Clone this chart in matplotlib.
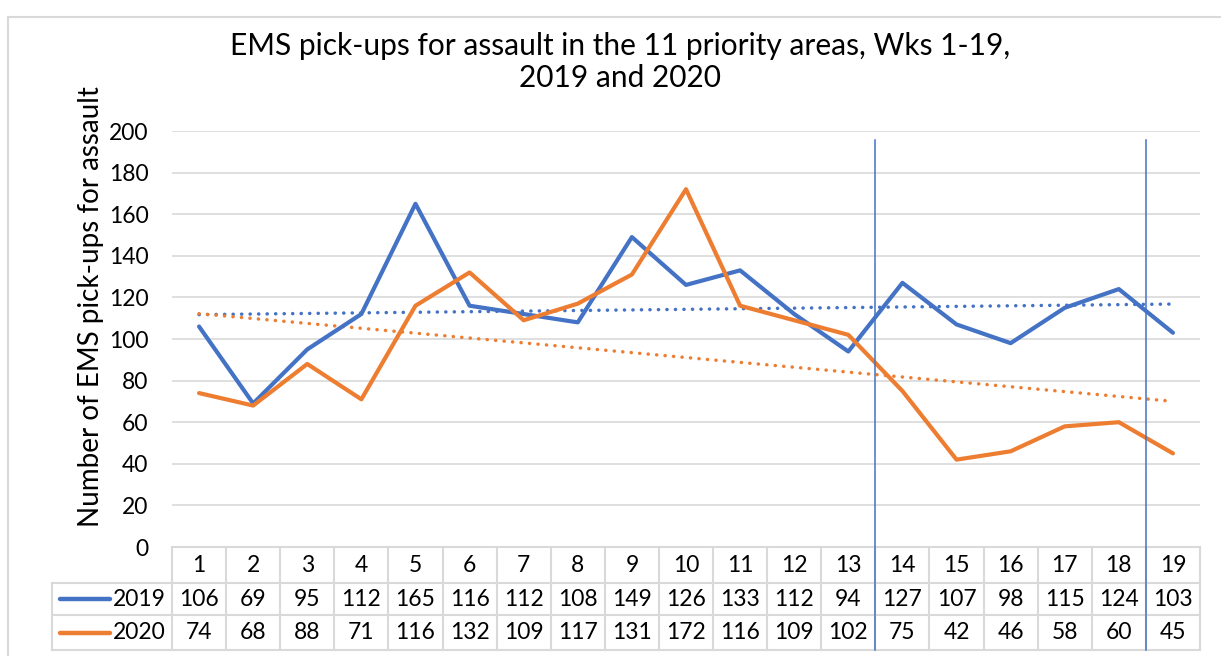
import numpy as np
import matplotlib
matplotlib.use("Agg")
import matplotlib.pyplot as plt
from matplotlib.lines import Line2D
from matplotlib.transforms import blended_transform_factory

# DATA ##########################################
weeks = list(range(1, 20))
ems_2019 = [106, 69, 95, 112, 165, 116, 112, 108, 149, 126, 133, 112, 94, 127, 107, 98, 115, 124, 103]
ems_2020 = [74, 68, 88, 71, 116, 132, 109, 117, 131, 172, 116, 109, 102, 75, 42, 46, 58, 60, 45]
series_names = ['2019', '2020']
marker_weeks = [13.5, 18.5]   # week boundaries highlighted with vertical lines
y_ticks = list(range(0, 201, 20))

# STYLE #########################################
plt.rcParams['font.family'] = ['Lato', 'DejaVu Sans']
blue = '#4472c4'
orange = '#ed7d31'
grid_col = '#d9d9d9'
W, H = 1221, 656
fs_num = 16.5

fig = plt.figure(figsize=(W / 100, H / 100), dpi=100)
ax = fig.add_axes([172 / W, 1 - 547 / H, (1200 - 172) / W, (547 - 131) / H])

x = np.array(weeks)
ax.plot(x, ems_2019, color=blue, lw=3, solid_capstyle='round', solid_joinstyle='round', zorder=4)
ax.plot(x, ems_2020, color=orange, lw=3, solid_capstyle='round', solid_joinstyle='round', zorder=4)

# linear trendlines
for vals, col in [(ems_2019, blue), (ems_2020, orange)]:
    k, b = np.polyfit(x, vals, 1)
    ax.plot(x, k * x + b, color=col, lw=2.5, ls=(0, (0.05, 2.4)), dash_capstyle='round', zorder=3)

ax.set_xlim(0.5, 19.5)
ax.set_ylim(0, 200)
ax.set_yticks(y_ticks)
ax.set_yticklabels([str(t) for t in y_ticks], fontsize=fs_num)
ax.set_xticks([])
ax.tick_params(axis='y', length=0, pad=17)
for s in ax.spines.values():
    s.set_visible(False)
ax.grid(axis='y', color=grid_col, lw=1.2)
ax.set_axisbelow(True)

ax.set_ylabel('Number of EMS pick-ups for assault', fontsize=20)
ax.yaxis.set_label_coords(-0.066, 0.577)

fig.text(620 / W, 1 - 62 / H, 'EMS pick-ups for assault in the 11 priority areas, Wks 1-19,\n2019 and 2020',
         ha='center', va='center', fontsize=21.5, linespacing=1.15)

# DATA TABLE ####################################
tr = blended_transform_factory(ax.transData, ax.transAxes)
ph = 547 - 131
def fy(py):
    return (547 - py) / ph

row_edges = [fy(547), fy(583), fy(615), fy(650)]
unit = (1200 - 172) / 19
lab_left = 0.5 - (172 - 52) / unit
tab_kw = dict(color=grid_col, lw=1.5, transform=tr, clip_on=False)

# horizontal borders
ax.add_line(Line2D([0.5, 19.5], [row_edges[0]] * 2, **tab_kw))
for r in row_edges[1:]:
    ax.add_line(Line2D([lab_left, 19.5], [r, r], **tab_kw))
# vertical borders
for xe in np.arange(0.5, 20.5, 1):
    ax.add_line(Line2D([xe, xe], [row_edges[0], row_edges[3]], **tab_kw))
ax.add_line(Line2D([lab_left, lab_left], [row_edges[1], row_edges[3]], **tab_kw))

centers = [(row_edges[i] + row_edges[i + 1]) / 2 for i in range(3)]
for wk in weeks:
    ax.text(wk, centers[0], str(wk), transform=tr, ha='center', va='center', fontsize=fs_num)
for row, vals in zip(centers[1:], [ems_2019, ems_2020]):
    for wk, v in zip(weeks, vals):
        ax.text(wk, row, str(v), transform=tr, ha='center', va='center', fontsize=fs_num)

# legend keys in row labels
for row, name, col in zip(centers[1:], series_names, [blue, orange]):
    x0 = 0.5 - (172 - 60) / unit
    x1 = 0.5 - (172 - 110) / unit
    ax.add_line(Line2D([x0, x1], [row, row], color=col, lw=3.2, transform=tr,
                       clip_on=False, solid_capstyle='round'))
    ax.text(0.5 - 6 / unit, row, name, transform=tr, ha='right', va='center', fontsize=fs_num)

# vertical marker lines
for mw in marker_weeks:
    ax.add_line(Line2D([mw, mw], [fy(140), fy(650)], color=blue, lw=1.1,
                       transform=tr, clip_on=False, zorder=5))

# chart border
fig.add_artist(Line2D([8 / W, 8 / W], [0, 1 - 17 / H], color='#d9d9d9', lw=1.5))
fig.add_artist(Line2D([8 / W, 1], [1 - 17 / H] * 2, color='#d9d9d9', lw=1.5))

fig.savefig('out.png', dpi=100)
